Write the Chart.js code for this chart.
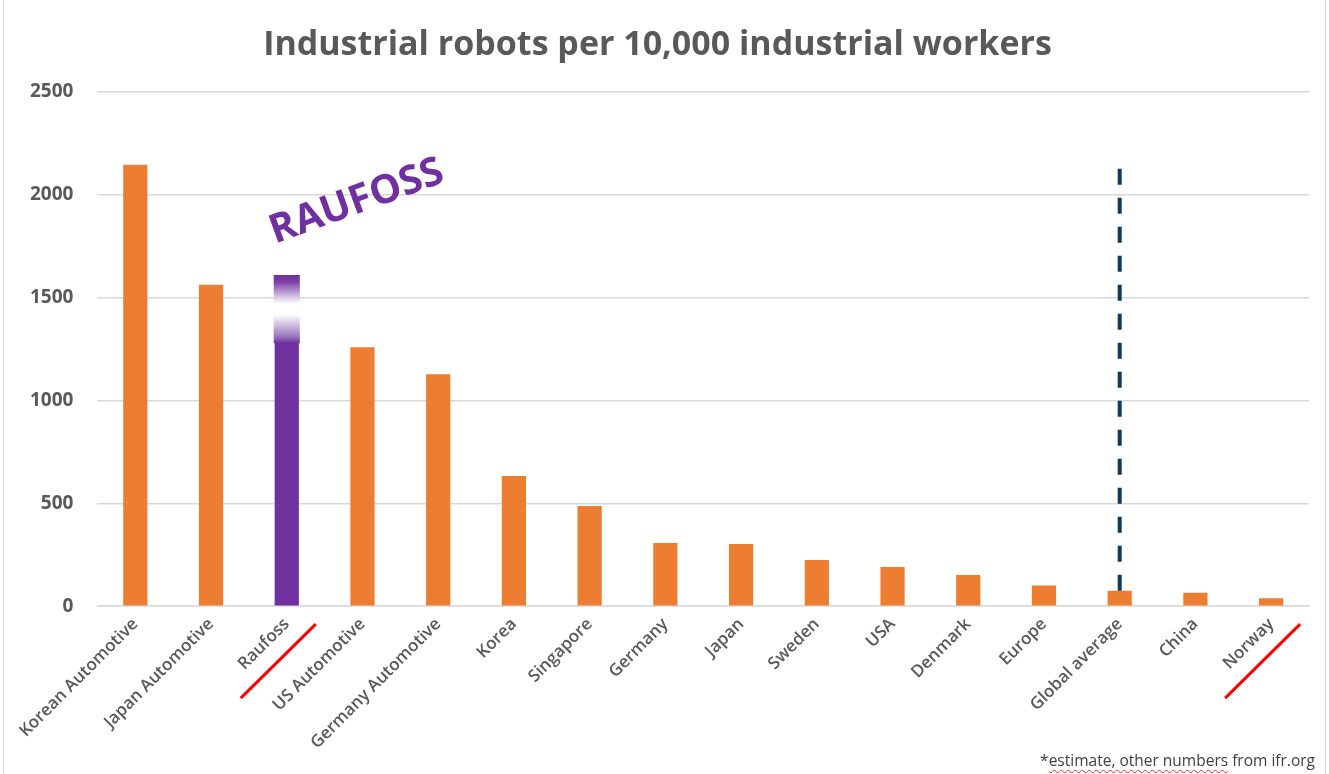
<!DOCTYPE html>
<html>
<head>
<meta charset="utf-8">
<script src="https://cdn.jsdelivr.net/npm/chart.js@4/dist/chart.umd.min.js"></script>
<style>
    html, body { margin: 0; padding: 0; background: #fff; }
    #wrap { position: relative; width: 1329px; height: 774px; }
    #frame { position: absolute; left: 3px; top: 0; right: 3px; bottom: 0; border-left: 1px solid #d9d9d9; border-right: 1px solid #d9d9d9; pointer-events: none; }
    #note { position: absolute; right: 14px; bottom: 3px; font: 15.5px 'Open Sans', sans-serif; color: #404040; }
    .typo { text-decoration: underline wavy #e03030; text-decoration-thickness: 1px; text-underline-offset: 3px; }
</style>
</head>
<body>
<div id="wrap">
    <canvas id="chart" width="1329" height="774"></canvas>
    <div id="frame"></div>
    <div id="note">*<span class="typo">estimate, other numbers</span> from ifr.org</div>
</div>
<script>
const categories = [
    'Korean Automotive', 'Japan Automotive', 'Raufoss', 'US Automotive', 'Germany Automotive',
    'Korea', 'Singapore', 'Germany', 'Japan', 'Sweden', 'USA', 'Denmark', 'Europe',
    'Global average', 'China', 'Norway'
];
const robots = [2145, 1562, 1290, 1258, 1127, 633, 487, 307, 302, 224, 190, 151, 100, 75, 65, 39];
// faded "estimate" box sitting on top of the Raufoss bar
const raufossEstimate = [1278, 1610];
// dashed marker above the global average bar
const globalLine = [75, 2135];
const underlined = ['Raufoss', 'Norway'];
const yTicks = [0, 500, 1000, 1500, 2000, 2500];

const ORANGE = '#ED7D31';
const PURPLE = '#7030A0';
const GREY = '#595959';
const FONT = "'Open Sans', sans-serif";

function barColors() {
    return categories.map(c => (c === 'Raufoss' ? PURPLE : ORANGE));
}

function estimateGradient(context) {
    const chart = context.chart;
    if (!chart.chartArea) return PURPLE;
    const y = chart.scales.y;
    const g = chart.ctx.createLinearGradient(0, y.getPixelForValue(raufossEstimate[1]), 0, y.getPixelForValue(raufossEstimate[0]));
    g.addColorStop(0, PURPLE);
    g.addColorStop(0.1, '#7a3fa8');
    g.addColorStop(0.42, '#ffffff');
    g.addColorStop(0.58, '#ffffff');
    g.addColorStop(0.9, '#9a78c0');
    g.addColorStop(1, PURPLE);
    return g;
}

// red strike lines under some x labels + the RAUFOSS callout
const decorations = {
    id: 'decorations',
    afterDraw(chart) {
        const { ctx, chartArea, scales } = chart;
        ctx.save();
        ctx.strokeStyle = '#FF0000';
        ctx.lineWidth = 3;
        underlined.forEach(name => {
            const x = scales.x.getPixelForValue(categories.indexOf(name));
            ctx.beginPath();
            ctx.moveTo(x - 46, chartArea.bottom + 92);
            ctx.lineTo(x + 29, chartArea.bottom + 18);
            ctx.stroke();
        });

        const rx = scales.x.getPixelForValue(categories.indexOf('Raufoss')) + 70;
        const ry = scales.y.getPixelForValue(1965);
        ctx.translate(rx, ry);
        ctx.rotate(-20 * Math.PI / 180);
        ctx.fillStyle = PURPLE;
        ctx.font = `bold 40px ${FONT}`;
        ctx.textAlign = 'center';
        ctx.textBaseline = 'middle';
        ctx.fillText('RAUFOSS', 0, 0);
        ctx.restore();
    }
};

const ctx = document.getElementById('chart');
new Chart(ctx, {
    type: 'bar',
    data: {
        labels: categories,
        datasets: [
            {
                type: 'line',
                label: 'Global average marker',
                data: globalLine.map(v => ({ x: 'Global average', y: v })),
                borderColor: '#0E3A5E',
                borderWidth: 4,
                borderDash: [16, 13],
                pointRadius: 0,
                fill: false,
                order: 0,
            },
            {
                label: 'Estimate',
                data: categories.map(c => (c === 'Raufoss' ? raufossEstimate : null)),
                backgroundColor: estimateGradient,
                barPercentage: 0.345,
                categoryPercentage: 1,
                grouped: false,
                order: 1,
            },
            {
                label: 'Robots per 10,000 workers',
                data: robots,
                backgroundColor: barColors(),
                barPercentage: 0.32,
                categoryPercentage: 1,
                grouped: false,
                order: 2,
            },
        ],
    },
    options: {
        responsive: false,
        animation: false,
        layout: { padding: { left: 6, right: 20, top: 0, bottom: 13 } },
        plugins: {
            legend: { display: false },
            tooltip: { enabled: false },
            title: {
                display: true,
                text: 'Industrial robots per 10,000 industrial workers',
                color: GREY,
                font: { family: FONT, size: 34, weight: 'bold' },
                padding: { top: 25, bottom: 26 },
            },
        },
        scales: {
            x: {
                grid: { display: false, drawTicks: false },
                border: { color: '#d9d9d9', width: 1.5 },
                ticks: {
                    color: GREY,
                    font: { family: FONT, size: 17, weight: '600' },
                    minRotation: 45,
                    maxRotation: 45,
                    autoSkip: false,
                    padding: 8,
                },
            },
            y: {
                min: 0,
                max: 2500,
                afterBuildTicks: axis => { axis.ticks = yTicks.map(v => ({ value: v })); },
                grid: { color: '#d9d9d9', lineWidth: 1.5, drawTicks: false },
                border: { display: false },
                ticks: {
                    color: GREY,
                    font: { family: FONT, size: 19, weight: 'bold' },
                    padding: 24,
                    callback: v => String(v),
                },
            },
        },
    },
    plugins: [decorations],
});
</script>
</body>
</html>
